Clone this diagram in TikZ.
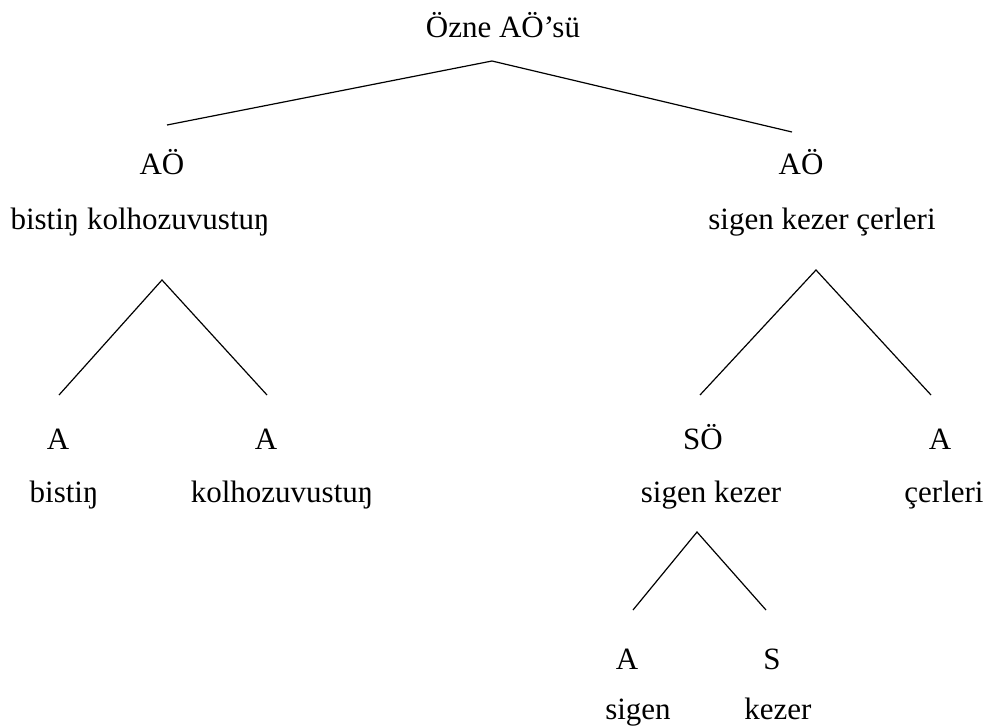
\documentclass[tikz,border=0pt]{standalone}
\usepackage{fontspec}
\setmainfont{Liberation Serif}
\begin{document}
\begin{tikzpicture}[x=1pt,y=-1pt,
  lbl/.style={font=\fontsize{31}{37}\selectfont, inner sep=0pt, anchor=base},
  edge/.style={draw=black, line width=1.2pt}]
\useasboundingbox (0,0) rectangle (991,728);
% labels
\node[lbl] (root) at (503,37) {Özne AÖ’sü};
\node[lbl] (lAO) at (162,174) {AÖ};
\node[lbl] (lAOt) at (140,229) {bistiŋ kolhozuvustuŋ};
\node[lbl] (rAO) at (801,174) {AÖ};
\node[lbl] (rAOt) at (822,229) {sigen kezer çerleri};
\node[lbl] (a1) at (58,449) {A};
\node[lbl] (a1t) at (64,502) {bistiŋ};
\node[lbl] (a2) at (266,449) {A};
\node[lbl] (a2t) at (282,502) {kolhozuvustuŋ};
\node[lbl] (so) at (703,449) {SÖ};
\node[lbl] (sot) at (711,502) {sigen kezer};
\node[lbl] (a3) at (940,449) {A};
\node[lbl] (a3t) at (944,502) {çerleri};
\node[lbl] (a4) at (627,669) {A};
\node[lbl] (a4t) at (638,719) {sigen};
\node[lbl] (s1) at (772,669) {S};
\node[lbl] (s1t) at (778,719) {kezer};
% branch points
\coordinate (p0) at (492,61);
\coordinate (p0l) at (167,125);
\coordinate (p0r) at (792,132);
\coordinate (p1) at (162,280);
\coordinate (p1l) at (59,395);
\coordinate (p1r) at (267,395);
\coordinate (p2) at (816,270);
\coordinate (p2l) at (700,395);
\coordinate (p2r) at (931,395);
\coordinate (p3) at (697,532);
\coordinate (p3l) at (633,610);
\coordinate (p3r) at (766,610);
\draw[edge] (p0l) -- (p0) -- (p0r);
\draw[edge] (p1l) -- (p1) -- (p1r);
\draw[edge] (p2l) -- (p2) -- (p2r);
\draw[edge] (p3l) -- (p3) -- (p3r);
\end{tikzpicture}
\end{document}
